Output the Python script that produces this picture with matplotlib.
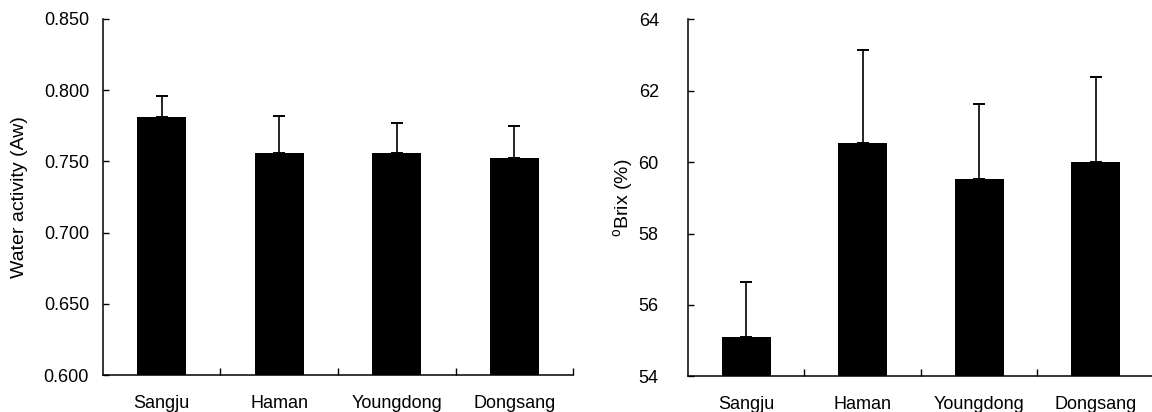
import matplotlib
matplotlib.use("Agg")
import matplotlib.pyplot as plt
import numpy as np
from matplotlib.ticker import FixedLocator, FormatStrFormatter

plt.rcParams['font.family'] = ['Liberation Sans', 'DejaVu Sans']
plt.rcParams['mathtext.fontset'] = 'custom'
plt.rcParams['mathtext.rm'] = 'Liberation Sans'

regions = ["Sangju", "Haman", "Youngdong", "Dongsang"]

water_activity = [0.781, 0.756, 0.756, 0.752]
water_activity_sd = [0.015, 0.026, 0.021, 0.023]

brix = [55.09, 60.54, 59.54, 60.01]
brix_sd = [1.56, 2.61, 2.10, 2.38]

aw_ticks = [0.600, 0.650, 0.700, 0.750, 0.800, 0.850]
brix_ticks = [54, 56, 58, 60, 62, 64]

fig = plt.figure(figsize=(11.52, 4.12), dpi=100)
ax1 = fig.add_axes([0.0894, 0.0891, 0.4080, 0.8655])
ax2 = fig.add_axes([0.5972, 0.0867, 0.4045, 0.8660])


def draw_panel(ax, values, errors, ticks, ylabel, fmt, tickpad, labelpad):
    x = np.arange(len(regions))
    ax.bar(x, values, width=0.42, color='black', zorder=2)
    ax.errorbar(x, values, yerr=[np.zeros(len(errors)), errors], fmt='none',
                ecolor='black', elinewidth=1.2, capsize=4, capthick=1.4,
                zorder=1)
    ax.set_xlim(-0.5, len(regions) - 0.5)
    ax.set_ylim(ticks[0], ticks[-1])
    ax.yaxis.set_major_locator(FixedLocator(ticks))
    ax.yaxis.set_major_formatter(FormatStrFormatter(fmt))
    ax.set_xticks(x)
    ax.set_xticklabels(regions)
    ax.xaxis.set_minor_locator(FixedLocator(np.arange(0.5, len(regions), 1.0)))
    ax.tick_params(axis='x', which='major', length=0, pad=14, labelsize=13)
    ax.tick_params(axis='x', which='minor', direction='in', length=5,
                   width=1.0)
    ax.tick_params(axis='y', direction='in', length=4, width=1.0, pad=tickpad,
                   labelsize=13)
    for side in ('top', 'right'):
        ax.spines[side].set_visible(False)
    for side in ('left', 'bottom'):
        ax.spines[side].set_linewidth(1.1)
    ax.set_ylabel(ylabel, fontsize=14, labelpad=labelpad)


draw_panel(ax1, water_activity, water_activity_sd, aw_ticks,
           "Water activity (Aw)", "%.3f", 10, 11)
draw_panel(ax2, brix, brix_sd, brix_ticks,
           r"$^{\mathrm{o}}$Brix (%)", "%d", 21, 2)

fig.savefig("out.png", dpi=100)
